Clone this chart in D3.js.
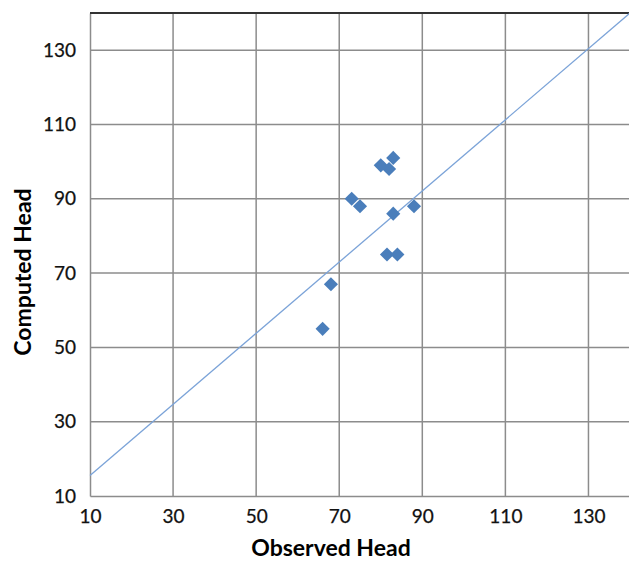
<!DOCTYPE html>
<html><head><meta charset="utf-8">
<script src="https://cdn.jsdelivr.net/npm/d3@7"></script>
<style>body{margin:0;background:#fff}svg{display:block}</style>
</head><body>
<svg id="c" width="629" height="561"></svg>
<script>
const observed = [66, 68, 73, 75, 80, 82, 83, 83, 88, 81.5, 84];
const computed = [55, 67, 90, 88, 99, 98, 101, 86, 88, 75, 75];
const lineX = [10, 140];
const lineY = [15.5, 140];
const xTicks = [10, 30, 50, 70, 90, 110, 130];
const yTicks = [10, 30, 50, 70, 90, 110, 130];

const svg = d3.select("#c");
const L = 90, R = 630, T = 13, B = 496;
const x = d3.scaleLinear().domain([10, 140]).range([L, R]);
const y = d3.scaleLinear().domain([10, 140]).range([B, T]);
const font = "Lato, 'Open Sans', sans-serif";

// grid
svg.append("g").selectAll("line").data(xTicks.slice(1)).join("line")
  .attr("x1", d => x(d)).attr("x2", d => x(d)).attr("y1", T).attr("y2", B)
  .attr("stroke", "#8c8c8c").attr("stroke-width", 1.5);
svg.append("g").selectAll("line").data(yTicks.slice(1)).join("line")
  .attr("x1", L).attr("x2", R).attr("y1", d => y(d)).attr("y2", d => y(d))
  .attr("stroke", "#8c8c8c").attr("stroke-width", 1.5);

// axes
const xa = svg.append("g").attr("transform", `translate(0,${B})`)
  .call(d3.axisBottom(x).tickValues(xTicks).tickSize(0).tickPadding(14));
const ya = svg.append("g").attr("transform", `translate(${L},0)`)
  .call(d3.axisLeft(y).tickValues(yTicks).tickSize(0).tickPadding(14));
[xa, ya].forEach(a => {
  a.select(".domain").attr("stroke", "#8c8c8c").attr("stroke-width", 1.5);
  a.selectAll("text").attr("font-family", font).attr("font-size", 19)
    .attr("fill", "#111").attr("stroke", "#111").attr("stroke-width", 0.25);
});
// top border
svg.append("line").attr("x1", L).attr("x2", R).attr("y1", T).attr("y2", T)
  .attr("stroke", "#333").attr("stroke-width", 2);

// 1:1 style line
svg.append("line")
  .attr("x1", x(lineX[0])).attr("y1", y(lineY[0]))
  .attr("x2", x(lineX[1])).attr("y2", y(lineY[1]))
  .attr("stroke", "#7ba3d8").attr("stroke-width", 1.3);

// points
const sym = d3.symbol().type(d3.symbolSquare).size(100);
svg.append("g").selectAll("path").data(observed.map((d, i) => [d, computed[i]])).join("path")
  .attr("d", sym)
  .attr("transform", d => `translate(${x(d[0])},${y(d[1])}) rotate(45)`)
  .attr("fill", "#4a7ebb");

// titles
svg.append("text").attr("x", 331).attr("y", 556).attr("text-anchor", "middle")
  .attr("font-family", font).attr("font-weight", "bold").attr("font-size", 23)
  .text("Observed Head");
svg.append("text").attr("transform", "translate(31,272) rotate(-90)").attr("text-anchor", "middle")
  .attr("font-family", font).attr("font-weight", "bold").attr("font-size", 23)
  .text("Computed Head");
</script>
</body></html>
